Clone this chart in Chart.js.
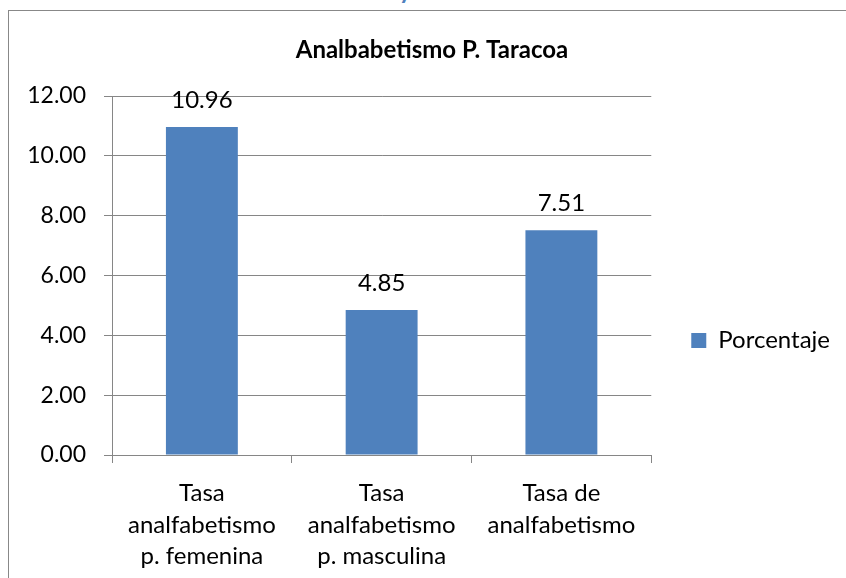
<!DOCTYPE html>
<html>
<head>
<meta charset="utf-8">
<script src="https://cdn.jsdelivr.net/npm/chart.js@4.4.1/dist/chart.umd.min.js"></script>
<style>
  html, body { margin: 0; padding: 0; background: #fff; overflow: hidden; width: 846px; height: 578px; }
  #frame { position: absolute; left: 8px; top: 10px; width: 900px; height: 700px; border-left: 1px solid #888; border-top: 1px solid #888; }
  #wrap { position: absolute; left: 0; top: 0; width: 846px; height: 578px; }
  #topfrag { position: absolute; left: 399px; top: -22px; font: bold 24px Lato; line-height: 24px; color: #4F81BD; }
</style>
</head>
<body>
<div id="topfrag">y</div>
<div id="frame"></div>
<div id="wrap"><canvas id="c" width="846" height="578"></canvas></div>
<script>
const chartTitle = 'Analbabetismo P. Taracoa';
const categories = [
  ['Tasa', 'analfabetismo', 'p. femenina'],
  ['Tasa', 'analfabetismo', 'p. masculina'],
  ['Tasa de', 'analfabetismo']
];
const seriesName = 'Porcentaje';
const values = [10.96, 4.85, 7.51];
const yTicks = [0, 2, 4, 6, 8, 10, 12];

const BAR = '#4F81BD';
const GRID = '#868686';
const FONT = 'Lato';

const dataLabels = {
  id: 'dataLabels',
  afterDatasetsDraw(chart) {
    const ctx = chart.ctx;
    const meta = chart.getDatasetMeta(0);
    ctx.save();
    ctx.font = '24px ' + FONT;
    ctx.fillStyle = '#000';
    ctx.textAlign = 'center';
    ctx.textBaseline = 'alphabetic';
    meta.data.forEach((bar, i) => {
      ctx.fillText(values[i].toFixed(2), bar.x, bar.y - 19);
    });
    ctx.restore();
  }
};

new Chart(document.getElementById('c'), {
  type: 'bar',
  data: {
    labels: categories,
    datasets: [{
      label: seriesName,
      data: values,
      backgroundColor: BAR,
      borderWidth: 0,
      categoryPercentage: 1.0,
      barPercentage: 0.4
    }]
  },
  options: {
    responsive: false,
    animation: false,
    layout: { padding: { left: 24, right: 6, top: 0, bottom: 0 } },
    plugins: {
      title: {
        display: true,
        text: chartTitle,
        color: '#000',
        font: { family: FONT, size: 24, weight: 'bold', lineHeight: 1.2 },
        padding: { top: 36, bottom: 31.2 }
      },
      legend: {
        display: true,
        position: 'right',
        align: 'center',
        title: { display: true, text: '', font: { size: 1, lineHeight: 1 }, padding: { top: 102, bottom: 0 } },
        labels: {
          boxWidth: 15,
          boxHeight: 15,
          padding: 40,
          color: '#000',
          font: { family: FONT, size: 24 }
        }
      },
      tooltip: { enabled: false }
    },
    scales: {
      x: {
        grid: { display: true, drawOnChartArea: false, drawTicks: true, tickLength: 8, color: GRID, offset: true },
        border: { display: true, color: GRID, width: 1 },
        ticks: { color: '#000', padding: 15, maxRotation: 0, autoSkip: false, font: { family: FONT, size: 24, lineHeight: 1.3 } },
        afterFit(scale) { scale.height = 123; }
      },
      y: {
        min: 0,
        max: 12,
        afterBuildTicks(scale) { scale.ticks = yTicks.map(v => ({ value: v })); },
        grid: { color: GRID, tickLength: 8, drawTicks: true },
        border: { display: true, color: GRID, width: 1 },
        ticks: { color: '#000', padding: 18, font: { family: FONT, size: 23 }, callback: v => Number(v).toFixed(2) },
        afterFit(scale) { scale.width = 88; }
      }
    }
  },
  plugins: [dataLabels]
});
</script>
</body>
</html>
